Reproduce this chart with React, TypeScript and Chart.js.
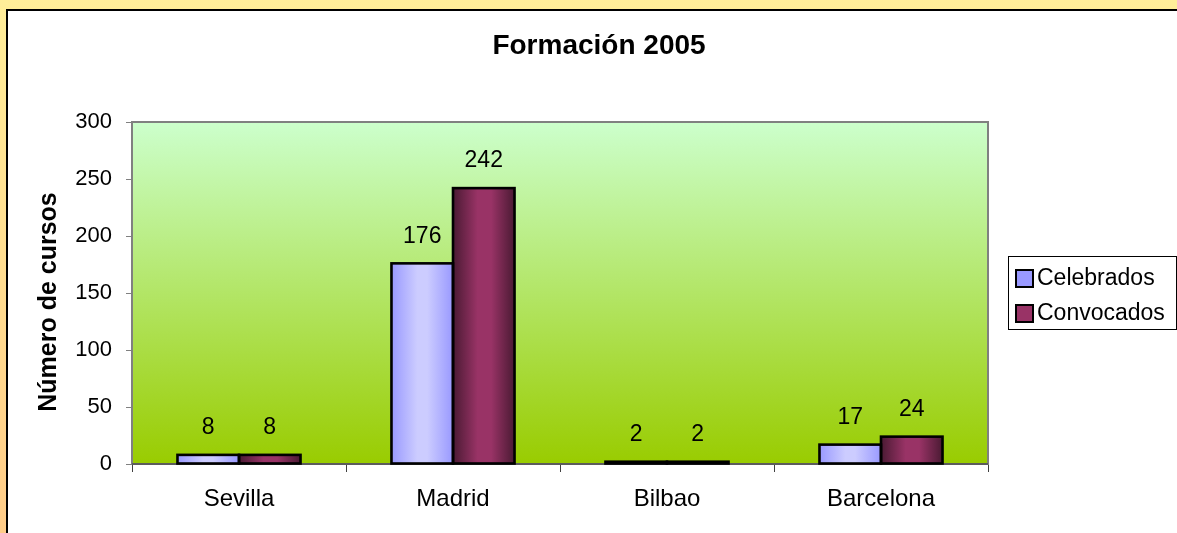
import React, { useEffect, useRef } from "react";
import { Chart, registerables } from "chart.js";

Chart.register(...registerables);

const categories = ["Sevilla", "Madrid", "Bilbao", "Barcelona"];
const celebrados = [8, 176, 2, 17];
const convocados = [8, 242, 2, 24];
const seriesNames = ["Celebrados", "Convocados"];
const yTicks = [0, 50, 100, 150, 200, 250, 300];
const chartTitle = "Formación 2005";
const yAxisTitle = "Número de cursos";

const FONT = 'Arial, "Liberation Sans", sans-serif';
const CAT_PCT = 0.575;
const legendColors = ["#9999FF", "#993366"];
const barStops: [number, string][][] = [
  [
    [0, "#9999FF"],
    [0.42, "#CCCCFF"],
    [0.58, "#CCCCFF"],
    [1, "#9999FF"],
  ],
  [
    [0, "#4A1A33"],
    [0.4, "#993366"],
    [0.62, "#993366"],
    [1, "#4A1A33"],
  ],
];

const makeFill = (di: number) => (ctx: any) => {
  const chart = ctx.chart;
  const x = chart.scales && chart.scales.x;
  if (!chart.chartArea || !x || ctx.dataIndex == null || ctx.type !== "data") return legendColors[di];
  const catW = (x.right - x.left) / categories.length;
  const groupW = catW * CAT_PCT;
  const barW = groupW / 2;
  const center = x.getPixelForValue(ctx.dataIndex);
  const left = center - groupW / 2 + di * barW;
  const g = chart.ctx.createLinearGradient(left, 0, left + barW, 0);
  barStops[di].forEach(([o, c]) => g.addColorStop(o, c));
  return g;
};

const plotBgPlugin = {
  id: "plotBg",
  beforeDraw(chart: any) {
    const { ctx, chartArea: a } = chart;
    if (!a) return;
    ctx.save();
    const g = ctx.createLinearGradient(0, a.top, 0, a.bottom);
    g.addColorStop(0, "#CCFFCC");
    g.addColorStop(1, "#99CC00");
    ctx.fillStyle = g;
    ctx.fillRect(a.left, a.top, a.right - a.left, a.bottom - a.top);
    ctx.restore();
  },
  beforeDatasetsDraw(chart: any) {
    const { ctx, chartArea: a } = chart;
    ctx.save();
    ctx.strokeStyle = "#808080";
    ctx.lineWidth = 2;
    ctx.strokeRect(a.left, a.top, a.right - a.left, a.bottom - a.top);
    ctx.beginPath();
    ctx.strokeStyle = "#505050";
    ctx.lineWidth = 1.5;
    ctx.moveTo(a.left, a.bottom);
    ctx.lineTo(a.right, a.bottom);
    ctx.stroke();
    ctx.restore();
  },
};

const labelsPlugin = {
  id: "valueLabels",
  afterDatasetsDraw(chart: any) {
    const { ctx } = chart;
    ctx.save();
    // bar outlines (centred on the bar edges)
    ctx.strokeStyle = "#000";
    ctx.lineWidth = 2.6;
    chart.data.datasets.forEach((_ds: any, di: number) => {
      const meta = chart.getDatasetMeta(di);
      meta.data.forEach((el: any) => {
        const { x, y, base, width } = el.getProps(["x", "y", "base", "width"], true);
        ctx.strokeRect(x - width / 2, Math.min(y, base), width, Math.abs(base - y));
      });
    });
    ctx.font = `23px ${FONT}`;
    ctx.fillStyle = "#000";
    ctx.textAlign = "center";
    ctx.textBaseline = "middle";
    chart.data.datasets.forEach((ds: any, di: number) => {
      const meta = chart.getDatasetMeta(di);
      meta.data.forEach((el: any, i: number) => {
        ctx.fillText(String(ds.data[i]), el.x, el.y - 27);
      });
    });
    ctx.restore();
  },
};

const decorPlugin = {
  id: "decor",
  afterDraw(chart: any) {
    const { ctx, chartArea: a } = chart;
    ctx.save();
    ctx.fillStyle = "#000";
    ctx.font = `bold 28px ${FONT}`;
    ctx.textAlign = "center";
    ctx.textBaseline = "middle";
    ctx.fillText(chartTitle, 591, 35);
    ctx.save();
    ctx.translate(41, (a.top + a.bottom) / 2 + 9);
    ctx.rotate(-Math.PI / 2);
    ctx.font = `bold 25px ${FONT}`;
    ctx.fillText(yAxisTitle, 0, 0);
    ctx.restore();
    const midY = (a.top + a.bottom) / 2;
    const bx = a.right + 20;
    const by = midY - 37;
    ctx.fillStyle = "#fff";
    ctx.fillRect(bx, by, 168, 73);
    ctx.strokeStyle = "#000";
    ctx.lineWidth = 1;
    ctx.strokeRect(bx + 0.5, by + 0.5, 168, 73);
    ctx.font = `23px ${FONT}`;
    ctx.textAlign = "left";
    seriesNames.forEach((name, i) => {
      const cy = midY - 15 + i * 35;
      ctx.fillStyle = legendColors[i];
      ctx.fillRect(bx + 8, cy - 8, 17, 17);
      ctx.strokeStyle = "#000";
      ctx.lineWidth = 2;
      ctx.strokeRect(bx + 8, cy - 8, 17, 17);
      ctx.fillStyle = "#000";
      ctx.fillText(name, bx + 29, cy + 1);
    });
    ctx.restore();
  },
};

export default function App() {
  const ref = useRef<HTMLCanvasElement | null>(null);
  useEffect(() => {
    if (!ref.current) return;
    const chart = new Chart(ref.current, {
      type: "bar",
      data: {
        labels: categories,
        datasets: [
          {
            label: seriesNames[0],
            data: celebrados,
            backgroundColor: makeFill(0) as any,
            borderWidth: 0,
            categoryPercentage: CAT_PCT,
            barPercentage: 1,
          },
          {
            label: seriesNames[1],
            data: convocados,
            backgroundColor: makeFill(1) as any,
            borderWidth: 0,
            categoryPercentage: CAT_PCT,
            barPercentage: 1,
          },
        ],
      },
      options: {
        responsive: false,
        maintainAspectRatio: false,
        animation: false,
        devicePixelRatio: 1,
        layout: { padding: { top: 111, right: 189, left: 0, bottom: 0 } },
        plugins: {
          legend: { display: false },
          title: { display: false },
          tooltip: { enabled: false },
        },
        scales: {
          x: {
            afterFit: (s: any) => {
              s.height = 69;
            },
            grid: {
              drawOnChartArea: false,
              drawTicks: true,
              tickLength: 8,
              color: "#404040",
              lineWidth: 1,
            },
            border: { display: false },
            ticks: {
              color: "#000",
              font: { family: FONT, size: 24 },
              padding: 13,
            },
          },
          y: {
            min: 0,
            max: 300,
            afterFit: (s: any) => {
              s.width = 124;
            },
            afterBuildTicks: (s: any) => {
              s.ticks = yTicks.map((v) => ({ value: v }));
            },
            grid: {
              drawOnChartArea: false,
              drawTicks: true,
              tickLength: 6,
              color: "#808080",
              lineWidth: 1,
            },
            border: { display: false },
            ticks: {
              color: "#000",
              font: { family: FONT, size: 22 },
              padding: 14,
            },
          },
        },
      },
      plugins: [plotBgPlugin, labelsPlugin, decorPlugin],
    });
    return () => chart.destroy();
  }, []);

  return (
    <div
      style={{
        position: "fixed",
        left: 0,
        top: 0,
        width: 1177,
        height: 533,
        overflow: "hidden",
        background: "linear-gradient(#FFEE99, #FFCC88)",
      }}
    >
      <div
        style={{
          position: "absolute",
          left: 6,
          top: 9,
          right: 0,
          bottom: 0,
          borderLeft: "2px solid #000",
          borderTop: "2px solid #000",
          background: "#fff",
        }}
      >
        <canvas ref={ref} width={1169} height={522} style={{ display: "block" }} />
      </div>
    </div>
  );
}
